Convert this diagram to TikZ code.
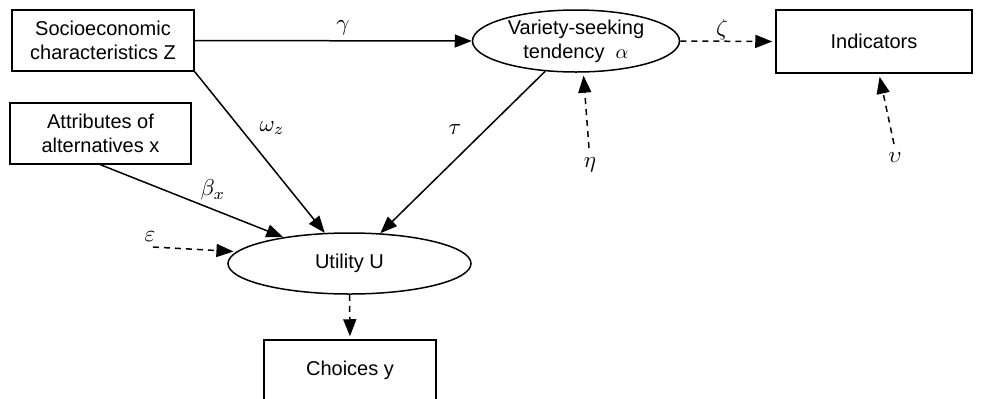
\documentclass[tikz,border=0pt]{standalone}
\usepackage{fontspec}
\setmainfont{Liberation Sans}
\usepackage{amsmath}
\usepackage{tikz}
\usetikzlibrary{arrows.meta,shapes.geometric}

\begin{document}
\begin{tikzpicture}[x=0.5pt,y=-0.5pt,
  box/.style={draw, line width=0.75pt, rectangle, inner sep=0pt, align=center, minimum height=30.5pt},
  latent/.style={draw, line width=0.75pt, ellipse, inner sep=0pt, align=center},
  arr/.style={line width=0.75pt, -{Triangle[length=8.5pt,width=6.5pt]}},
  err/.style={arr, dashed, dash pattern=on 3pt off 2.5pt, shorten >=1.5pt},
  lbl/.style={inner sep=0pt, scale=1.15}]
\useasboundingbox (0,0) rectangle (992,398);
% observed and latent variables
\node[box, minimum width=91pt] (socio) at (103,40.5) {Socioeconomic\\characteristics Z};
\node[box, minimum width=90.5pt] (attr) at (100.5,133.5) {Attributes of\\alternatives x};
\node[latent, minimum width=103.5pt, minimum height=31pt] (var) at (576,41) {Variety-seeking\\tendency~~$\alpha$};
\node[box, minimum width=98pt, minimum height=31.5pt] (ind) at (874,41.5) {Indicators};
\node[latent, minimum width=121.5pt, minimum height=30.5pt] (util) at (349.5,263.5) {Utility U};
\node[box, minimum width=86pt] (choice) at (350,370.5) {Choices y};
% error terms
\coordinate (epsstart) at (153,247);
\coordinate (etastart) at (589,148);
\coordinate (upsstart) at (894,144);
% structural paths
\draw[arr] (socio.east) -- (var.west);
\draw[arr] (socio.south east) -- (util);
\draw[arr] (attr.south) -- (util);
\draw[arr] (var) -- (util);
% measurement and error paths
\draw[err] (var.east) -- (ind.west);
\draw[err] (util.south) -- (choice.north);
\draw[err] (epsstart) -- (util.174);
\draw[err] (etastart) -- (var.283);
\draw[err] (upsstart) -- ([xshift=2.5pt]ind.south);
% labels
\node[lbl] (lgamma) at (343,28) {$\gamma$};
\node[lbl] (lzeta) at (722,30) {$\zeta$};
\node[lbl] (lomega) at (272,128) {$\omega_z$};
\node[lbl] (ltau) at (455,130) {$\tau$};
\node[lbl] (lbeta) at (213,190) {$\beta_x$};
\node[lbl] (leps) at (150,237) {$\varepsilon$};
\node[lbl] (leta) at (590,165) {$\eta$};
\node[lbl] (lups) at (895,158) {$\upsilon$};
\end{tikzpicture}
\end{document}
